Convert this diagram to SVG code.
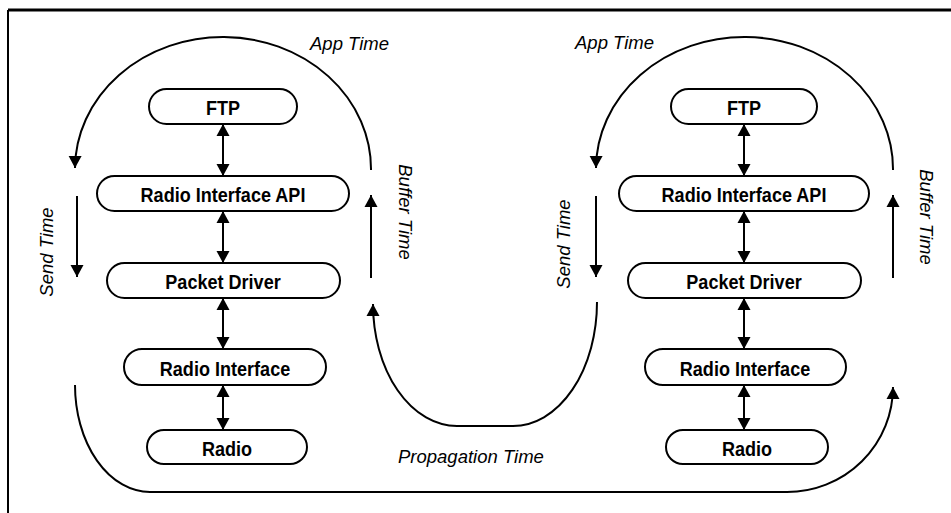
<svg xmlns="http://www.w3.org/2000/svg" width="951" height="513" viewBox="0 0 951 513">
<style>
.node rect{fill:#fff;stroke:#000;stroke-width:2}
.node text{font-family:"Liberation Sans",Arial,sans-serif;font-weight:bold;font-size:21px;text-anchor:middle;fill:#000}
.lbl{font-family:"Liberation Sans",Arial,sans-serif;font-style:italic;font-size:18.5px;fill:#000}
.c{fill:none;stroke:#000;stroke-width:2}
</style>
<defs>
<marker id="ah" markerUnits="userSpaceOnUse" markerWidth="13" markerHeight="14" refX="12" refY="7" orient="auto-start-reverse">
<path d="M0,0.5 L12,7 L0,13.5 z" fill="#000"/>
</marker>
</defs>
<rect width="951" height="513" fill="#fff"/>
<g id="frame">
<line x1="8" y1="10" x2="951" y2="10" stroke="#000" stroke-width="3"/>
<line x1="8" y1="10" x2="8" y2="513" stroke="#000" stroke-width="2"/>
</g>
<g id="connectors">
<line class="c" x1="223" y1="124" x2="223" y2="176" marker-start="url(#ah)" marker-end="url(#ah)"/>
<line class="c" x1="223" y1="211" x2="223" y2="263" marker-start="url(#ah)" marker-end="url(#ah)"/>
<line class="c" x1="223" y1="298" x2="223" y2="349" marker-start="url(#ah)" marker-end="url(#ah)"/>
<line class="c" x1="223" y1="385" x2="223" y2="430" marker-start="url(#ah)" marker-end="url(#ah)"/>
<line class="c" x1="744" y1="124" x2="744" y2="176" marker-start="url(#ah)" marker-end="url(#ah)"/>
<line class="c" x1="744" y1="211" x2="744" y2="263" marker-start="url(#ah)" marker-end="url(#ah)"/>
<line class="c" x1="744" y1="298" x2="744" y2="349" marker-start="url(#ah)" marker-end="url(#ah)"/>
<line class="c" x1="744" y1="385" x2="744" y2="430" marker-start="url(#ah)" marker-end="url(#ah)"/>
<path class="c" d="M371 170 A148 132 0 0 0 75 168" marker-end="url(#ah)"/>
<path class="c" d="M893 170 A148.5 132 0 0 0 596 168" marker-end="url(#ah)"/>
<line class="c" x1="77" y1="196" x2="77" y2="277" marker-end="url(#ah)"/>
<line class="c" x1="596" y1="196" x2="596" y2="277" marker-end="url(#ah)"/>
<line class="c" x1="371" y1="278" x2="371" y2="195" marker-end="url(#ah)"/>
<line class="c" x1="893" y1="278" x2="893" y2="195" marker-end="url(#ah)"/>
<path class="c" d="M597 302 A84 124 0 0 1 513 426 L457 426 A84 122 0 0 1 373 304" marker-end="url(#ah)"/>
<path class="c" d="M75 385 A75 107 0 0 0 150 492 L787 492 A106 105 0 0 0 893 387" marker-end="url(#ah)"/>
</g>
<g id="labels">
<text class="lbl" x="310" y="50">App Time</text>
<text class="lbl" x="575" y="49">App Time</text>
<text class="lbl" x="398" y="463">Propagation Time</text>
<text class="lbl" text-anchor="middle" transform="translate(53,252) rotate(-90)">Send Time</text>
<text class="lbl" text-anchor="middle" transform="translate(570,244) rotate(-90)">Send Time</text>
<text class="lbl" text-anchor="middle" transform="translate(399,212) rotate(90)">Buffer Time</text>
<text class="lbl" text-anchor="middle" transform="translate(920,217) rotate(90)">Buffer Time</text>
</g>
<g id="left-ftp" class="node"><rect x="149" y="89" width="148" height="35" rx="17.5"/><text transform="translate(223,115) scale(0.86,1)">FTP</text></g>
<g id="left-api" class="node"><rect x="97" y="176" width="252" height="35" rx="17.5"/><text transform="translate(223,202) scale(0.86,1)">Radio Interface API</text></g>
<g id="left-pd" class="node"><rect x="107" y="263" width="233" height="35" rx="17.5"/><text transform="translate(223,289) scale(0.86,1)">Packet Driver</text></g>
<g id="left-ri" class="node"><rect x="124" y="349" width="202" height="36" rx="18"/><text transform="translate(225,375.5) scale(0.86,1)">Radio Interface</text></g>
<g id="left-radio" class="node"><rect x="147" y="430" width="160" height="34" rx="17"/><text transform="translate(227,455.5) scale(0.86,1)">Radio</text></g>
<g id="right-ftp" class="node"><rect x="671" y="89" width="146" height="35" rx="17.5"/><text transform="translate(744,115) scale(0.86,1)">FTP</text></g>
<g id="right-api" class="node"><rect x="619" y="176" width="250" height="35" rx="17.5"/><text transform="translate(744,202) scale(0.86,1)">Radio Interface API</text></g>
<g id="right-pd" class="node"><rect x="628" y="263" width="233" height="35" rx="17.5"/><text transform="translate(744,289) scale(0.86,1)">Packet Driver</text></g>
<g id="right-ri" class="node"><rect x="645" y="349" width="201" height="36" rx="18"/><text transform="translate(745,375.5) scale(0.86,1)">Radio Interface</text></g>
<g id="right-radio" class="node"><rect x="666" y="430" width="162" height="34" rx="17"/><text transform="translate(747,455.5) scale(0.86,1)">Radio</text></g>
</svg>
